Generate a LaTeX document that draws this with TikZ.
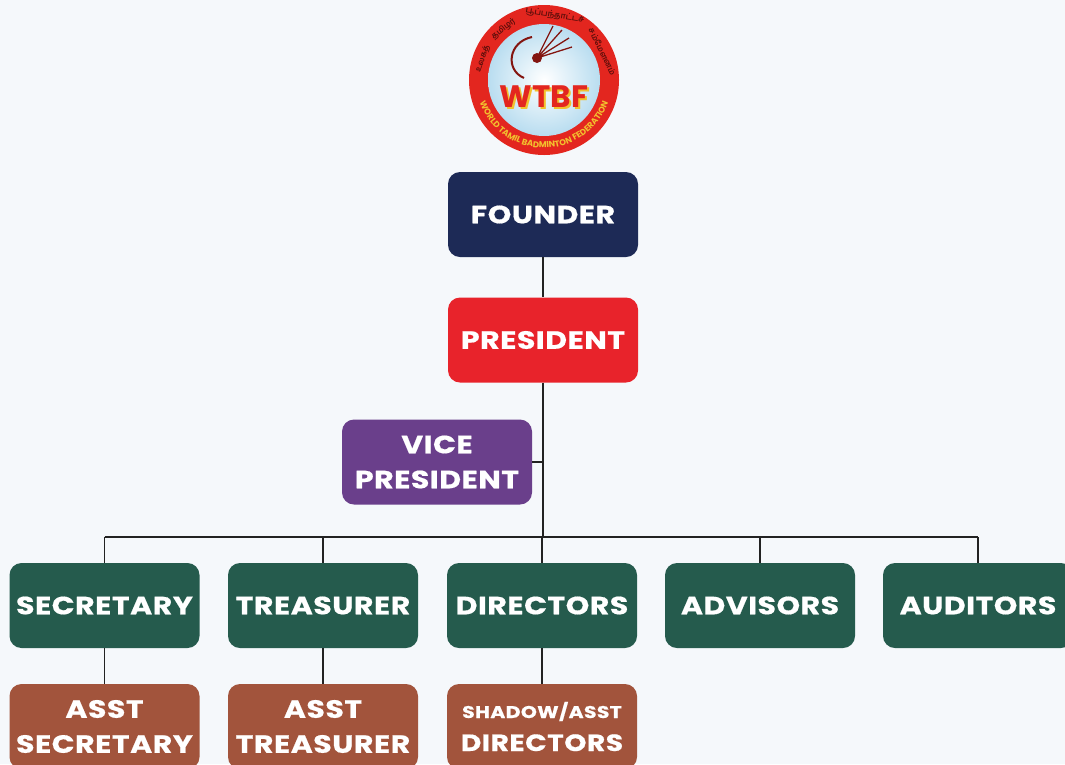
\documentclass[tikz,border=0pt]{standalone}
\usepackage{fontspec}
\setmainfont{Poppins}[FakeStretch=1.2, LetterSpace=2, BoldFeatures={FakeBold=0.6}]
\newfontfamily\logofont{Poppins}
\newfontfamily\tamilfont[Script=Tamil]{Hind Madurai}
\usetikzlibrary{decorations.text}
\definecolor{bgc}{HTML}{F5F8FB}
\definecolor{navyc}{HTML}{1D2A56}
\definecolor{presc}{HTML}{E8232B}
\definecolor{vpc}{HTML}{6A3F8B}
\definecolor{greenc}{HTML}{255B4D}
\definecolor{brownc}{HTML}{A2543C}
\definecolor{linec}{HTML}{222222}
\definecolor{logored}{HTML}{E3261F}
\definecolor{globec}{HTML}{B9DDF0}
\definecolor{goldc}{HTML}{F2C12E}
\definecolor{darkredc}{HTML}{5A0E0A}
\tikzset{
  orgbox/.style={rounded corners=12pt, minimum width=190pt, minimum height=85pt,
    text=white, font=\bfseries\fontsize{25}{35}\selectfont, align=center, inner sep=0pt},
  link/.style={draw=linec, line width=1.6pt},
  tamilword/.style={font=\tamilfont\bfseries\fontsize{8}{8}\selectfont, text=darkredc, inner sep=0pt}
}
\begin{document}
\begin{tikzpicture}[x=1pt,y=1pt]
\useasboundingbox (0,0) rectangle (1065,-764);
\fill[bgc] (0,0) rectangle (1065,-764);
\clip (0,0) rectangle (1065,-764);

% ---- logo ----
\coordinate (logo) at (544,-80);
\fill[logored] (logo) circle (75);
\shade[inner color=white, outer color=globec] (logo) circle (56);
% racket-like arc and shuttlecock
\draw[darkredc!70!logored, line width=2pt] (532,-37) .. controls (508,-42) and (505,-70) .. (524,-78);
\draw[darkredc!70!logored, line width=1.3pt] (537,-58) -- (553,-26) (537,-58) -- (562,-30) (537,-58) -- (569,-38) (537,-58) -- (572,-47);
\fill[darkredc!70!logored] (537,-58) circle (5);
% WTBF
\node[font=\logofont\bfseries\fontsize{31}{31}\selectfont, text=goldc] at (546,-99) {WTBF};
\node[font=\logofont\bfseries\fontsize{31}{31}\selectfont, text=logored] at (544,-97) {WTBF};
% ring texts
\path[decorate, decoration={text along path, text align=center,
  text={|\logofont\bfseries\fontsize{8.5}{8.5}\selectfont\color{goldc}|WORLD TAMIL BADMINTON FEDERATION}}]
  ([shift={(188:68)}]logo) arc[start angle=188, end angle=352, radius=68];
\node[tamilword, rotate=71] at ([shift={(161:65)}]logo) {உலகத்};
\node[tamilword, rotate=38.5] at ([shift={(128.5:65)}]logo) {தமிழர்};
\node[tamilword, rotate=-9.5] at ([shift={(80.5:65)}]logo) {பூப்பந்தாட்டச்};
\node[tamilword, rotate=-64] at ([shift={(26:65)}]logo) {சம்மேளனம்};

% ---- boxes ----
\node[orgbox, fill=navyc] (founder) at (543,-214.5) {FOUNDER};
\node[orgbox, fill=presc] (president) at (543,-340) {PRESIDENT};
\node[orgbox, fill=vpc] (vp) at (437,-462) {VICE\\PRESIDENT};

\node[orgbox, fill=greenc] (sec) at (104.5,-605.5) {SECRETARY};
\node[orgbox, fill=greenc] (tre) at (323,-605.5) {TREASURER};
\node[orgbox, fill=greenc] (dir) at (542,-605.5) {DIRECTORS};
\node[orgbox, fill=greenc] (adv) at (760,-605.5) {ADVISORS};
\node[orgbox, fill=greenc] (aud) at (978,-605.5) {AUDITORS};

\node[orgbox, fill=brownc] (asec) at (104.5,-726.5) {ASST\\SECRETARY};
\node[orgbox, fill=brownc] (atre) at (323,-726.5) {ASST\\TREASURER};
\node[orgbox, fill=brownc] (adir) at (542,-726.5) {{\fontsize{17}{18}\selectfont SHADOW/ASST}\\[-2pt]{\fontsize{23.5}{30}\selectfont DIRECTORS}};

% ---- connectors ----
\coordinate (bus) at (543,-537);
\draw[link] (founder.south) -- (president.north);
\draw[link] (president.south) -- (bus);
\draw[link] (vp.east) -- (vp.east -| president.south);
\draw[link] (bus -| sec.north) -- (bus -| aud.north);
\foreach \b in {sec,tre,dir,adv,aud} { \draw[link] (bus -| \b.north) -- (\b.north); }
\draw[link] (sec.south) -- (asec.north);
\draw[link] (tre.south) -- (atre.north);
\draw[link] (dir.south) -- (adir.north);
\end{tikzpicture}
\end{document}
